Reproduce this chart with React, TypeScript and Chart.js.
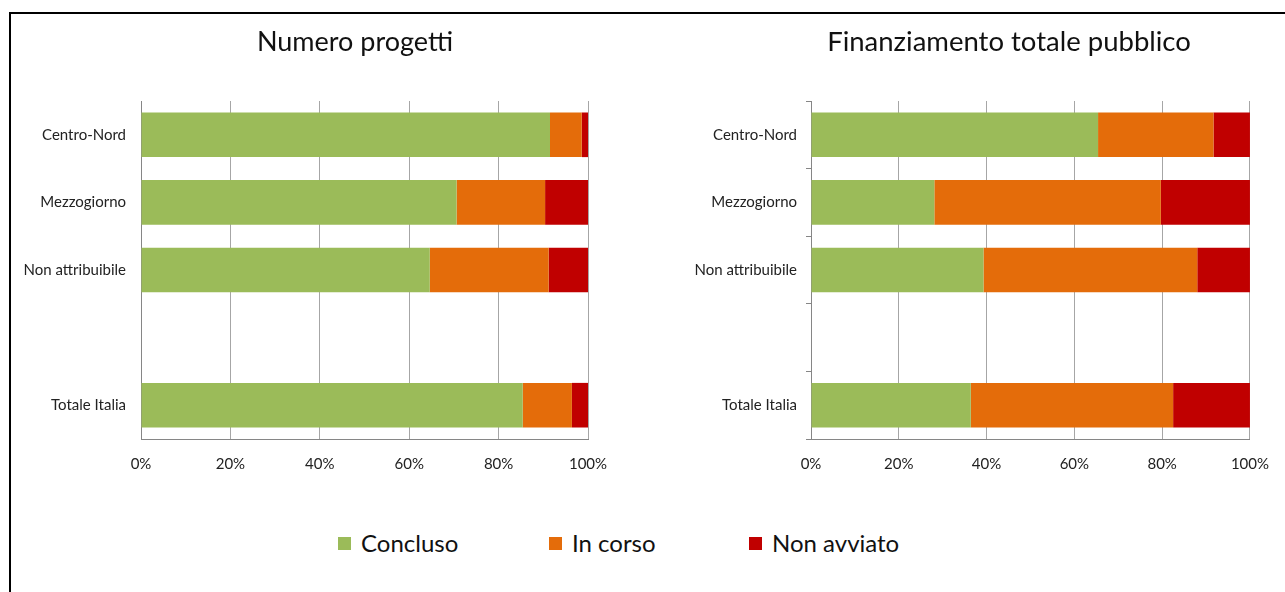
import React, { useEffect, useRef } from 'react';
import { Chart, registerables } from 'chart.js';

Chart.register(...registerables);

const categories = ['Centro-Nord', 'Mezzogiorno', 'Non attribuibile', '', 'Totale Italia'];
const seriesNames = ['Concluso', 'In corso', 'Non avviato'];
const seriesColors = ['#9BBB59', '#E46C0A', '#C00000'];

const progettiConcluso = [91.5, 70.6, 64.6, null, 85.4];
const progettiInCorso = [7.1, 19.8, 26.6, null, 11.0];
const progettiNonAvviato = [1.4, 9.6, 8.8, null, 3.6];

const finConcluso = [65.4, 28.1, 39.3, null, 36.4];
const finInCorso = [26.3, 51.6, 48.7, null, 46.1];
const finNonAvviato = [8.3, 20.3, 12.0, null, 17.5];

const titleLeft = 'Numero progetti';
const titleRight = 'Finanziamento totale pubblico';

const FONT = 'Lato, "Open Sans", sans-serif';

type Opts = {
  title: string;
  titleSize: number;
  series: (number | null)[][];
  padLeft: number;
  padRight: number;
  yWidth: number;
  yTicks: boolean;
};

function makeConfig(o: Opts): any {
  const lh = o.titleSize * 1.2;
  const padTop = 28 - lh / 2;
  const padBottom = 87 - padTop - lh;
  return {
    type: 'bar',
    data: {
      labels: categories,
      datasets: o.series.map((d, i) => ({
        label: seriesNames[i],
        data: d,
        backgroundColor: seriesColors[i],
        borderWidth: 0,
        categoryPercentage: 1,
        barPercentage: 0.66,
      })),
    },
    options: {
      indexAxis: 'y',
      responsive: false,
      animation: false,
      devicePixelRatio: 1,
      layout: { padding: { left: o.padLeft, right: o.padRight, top: 0, bottom: 12 } },
      plugins: {
        legend: { display: false },
        tooltip: { enabled: false },
        title: {
          display: true,
          text: o.title,
          color: '#111111',
          font: { family: FONT, size: o.titleSize, weight: 'normal', lineHeight: 1.2 },
          padding: { top: padTop, bottom: padBottom },
        },
      },
      scales: {
        x: {
          type: 'linear',
          stacked: true,
          min: 0,
          max: 100,
          ticks: {
            stepSize: 20,
            padding: 16,
            color: '#222222',
            font: { family: FONT, size: 15 },
            callback: (v: number) => v + '%',
          },
          grid: { color: '#A6A6A6', drawTicks: false, lineWidth: 1 },
          border: { display: true, color: '#868686', width: 1 },
        },
        y: {
          type: 'category',
          stacked: true,
          afterFit: (scale: any) => {
            scale.width = o.yWidth;
            scale._computeLabelArea = () => null;
          },
          ticks: {
            padding: o.yTicks ? 9 : 15,
            color: '#222222',
            font: { family: FONT, size: 15 },
          },
          grid: {
            display: true,
            drawOnChartArea: false,
            drawTicks: o.yTicks,
            tickLength: 5,
            color: '#868686',
            offset: true,
          },
          border: { display: true, color: '#868686', width: 1 },
        },
      },
    },
  };
}

function BarChart({ o, width, height }: { o: Opts; width: number; height: number }) {
  const ref = useRef<HTMLCanvasElement | null>(null);
  useEffect(() => {
    if (!ref.current) return;
    const chart = new Chart(ref.current, makeConfig(o));
    return () => chart.destroy();
  }, []);
  return <canvas ref={ref} width={width} height={height} style={{ display: 'block' }} />;
}

const legendX = [338, 549, 749];

export default function App() {
  const left: Opts = {
    title: titleLeft,
    titleSize: 27,
    series: [progettiConcluso, progettiInCorso, progettiNonAvviato],
    padLeft: 110,
    padRight: 52,
    yWidth: 19,
    yTicks: false,
  };
  const right: Opts = {
    title: titleRight,
    titleSize: 27.5,
    series: [finConcluso, finInCorso, finNonAvviato],
    padLeft: 90,
    padRight: 27,
    yWidth: 51,
    yTicks: true,
  };
  return (
    <div
      style={{
        position: 'fixed',
        left: 0,
        top: 0,
        width: 1285,
        height: 592,
        overflow: 'hidden',
        background: '#ffffff',
        fontFamily: FONT,
      }}
    >
      <div
        style={{
          position: 'absolute',
          left: 9,
          top: 12,
          width: 1300,
          height: 600,
          borderTop: '2px solid #000',
          borderLeft: '2px solid #000',
          boxSizing: 'border-box',
        }}
      />
      <div style={{ position: 'absolute', left: 12, top: 14 }}>
        <BarChart o={left} width={628} height={487} />
      </div>
      <div style={{ position: 'absolute', left: 670, top: 14 }}>
        <BarChart o={right} width={615} height={487} />
      </div>
      {seriesNames.map((name, i) => (
        <div
          key={name}
          style={{
            position: 'absolute',
            left: legendX[i],
            top: 530,
            height: 26,
            display: 'flex',
            alignItems: 'center',
            whiteSpace: 'nowrap',
          }}
        >
          <span
            style={{
              display: 'inline-block',
              width: 13,
              height: 13,
              background: seriesColors[i],
              marginRight: 10,
            }}
          />
          <span style={{ fontSize: 24, color: '#111111', lineHeight: '26px' }}>{name}</span>
        </div>
      ))}
    </div>
  );
}
